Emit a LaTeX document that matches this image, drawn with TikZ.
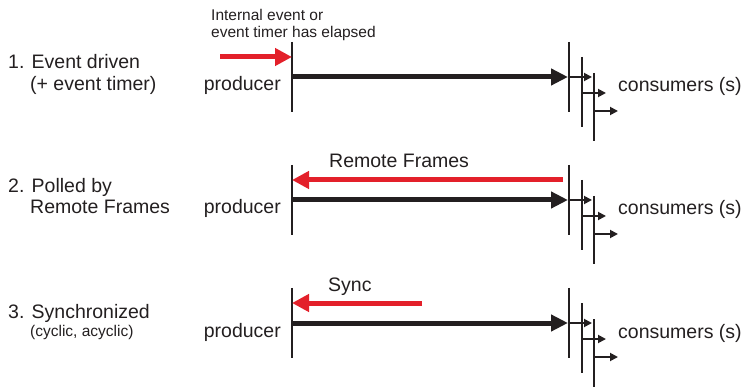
\documentclass[tikz,border=0pt]{standalone}
\usepackage{fontspec}
\setmainfont{Liberation Sans}
\usetikzlibrary{arrows.meta}
\usetikzlibrary{positioning}

\definecolor{inkgray}{HTML}{231F20}
\definecolor{signalred}{HTML}{E3202A}

\tikzset{
  bar/.style={draw=inkgray, line width=2pt},
  dataflow/.style={draw=inkgray, line width=5pt, -{Triangle[length=17pt,width=16pt]}},
  fanout/.style={draw=inkgray, line width=1.8pt, -{Triangle[length=8pt,width=8pt]}},
  trigger/.style={draw=signalred, line width=5pt, -{Triangle[length=17pt,width=17pt]}},
  txt/.style={inner sep=0pt, text=inkgray, font=\fontsize{19.5}{22}\selectfont},
  smalltxt/.style={inner sep=0pt, text=inkgray, font=\fontsize{15.5}{17}\selectfont},
}

\begin{document}
\begin{tikzpicture}[x=1pt, y=-1pt]
\useasboundingbox (0,0) rectangle (744,387);

\foreach \r/\dy in {1/77,2/200,3/323} {
  %producer
  \coordinate (ptop\r) at (292,\dy-35);
  \coordinate (pbot\r) at (292,\dy+35);
  \coordinate (pout\r) at (292,\dy);
  \coordinate (pin\r) at (292,\dy-20);
  \draw[bar] (ptop\r) -- (pbot\r);
  \node[txt, anchor=base east] (prod\r) at (281,\dy+14) {producer};

  %consumers
  \coordinate (cin\r) at (568,\dy);
  \draw[bar] (569,\dy-35) -- (569,\dy+35);
  \draw[bar] (582,\dy-20) -- (582,\dy+50);
  \draw[bar] (594,\dy-4) -- (594,\dy+64);
  \coordinate (ca\r) at (569,\dy);
  \coordinate (cb\r) at (582,\dy+16);
  \coordinate (cc\r) at (594,\dy+34);
  \draw[fanout] (ca\r) -- ++(23,0);
  \draw[fanout] (cb\r) -- ++(24,0);
  \draw[fanout] (cc\r) -- ++(24,0);
  \node[txt, anchor=base west] (cons\r) at (618,\dy+15) {consumers (s)};

  %data
  \draw[dataflow] (pout\r) -- (cin\r);
}

%1. event driven
\node[txt, anchor=base west] (mode1) at (8,69) {1. Event driven};
\node[txt, anchor=base west] (mode1b) at (30,91) {(+ event timer)};
\node[smalltxt, anchor=base west] (evt1) at (211,21) {Internal event or};
\node[smalltxt, anchor=base west] (evt1b) at (211,38) {event timer has elapsed};
\coordinate (evsrc) at (220,57);
\draw[trigger] (evsrc) -- (pin1);

%2. polled
\node[txt, anchor=base west] (mode2) at (8,193) {2. Polled by};
\node[txt, anchor=base west] (mode2b) at (30,214) {Remote Frames};
\node[txt, anchor=base west] (rtr) at (329,168) {Remote Frames};
\coordinate (rtrsrc) at (563,180);
\draw[trigger] (rtrsrc) -- (pin2);

%3. synchronized
\node[txt, anchor=base west] (mode3) at (8,319) {3. Synchronized};
\node[smalltxt, anchor=base west] (mode3b) at (30,336) {(cyclic, acyclic)};
\node[txt, anchor=base west] (sync) at (328,291) {Sync};
\coordinate (syncsrc) at (422,303);
\draw[trigger] (syncsrc) -- (pin3);
\end{tikzpicture}
\end{document}
